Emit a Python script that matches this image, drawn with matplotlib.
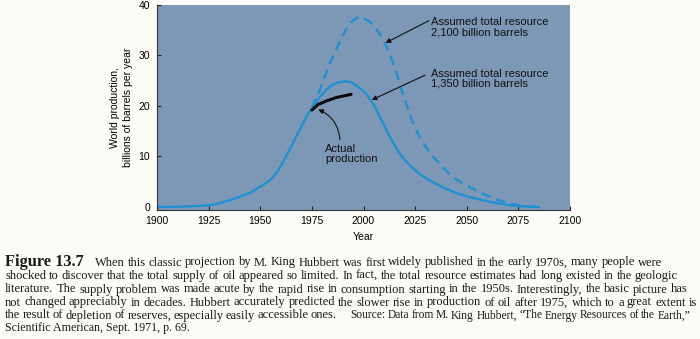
import matplotlib
matplotlib.use('Agg')
import matplotlib.pyplot as plt
from matplotlib.transforms import IdentityTransform

# Hubbert curve, 1,350 billion barrels
years_1350 = [1900, 1910, 1920, 1926, 1930, 1935, 1940, 1945, 1950, 1955, 1958,
              1961, 1964, 1967, 1970, 1973, 1976, 1979, 1982, 1985, 1988, 1991,
              1994, 1997, 2001, 2005, 2009, 2013, 2017, 2020, 2023, 2027, 2031,
              2036, 2040, 2046, 2052, 2058, 2064, 2070, 2076, 2082, 2085]
prod_1350 = [0.0, 0.05, 0.2, 0.4, 0.7, 1.3, 2.0, 2.8, 4.0, 5.4, 6.8,
             8.9, 11.2, 13.6, 16.0, 18.3, 20.2, 21.8, 23.2, 24.2, 24.7, 24.9,
             24.7, 23.9, 22.6, 20.2, 17.0, 13.7, 10.9, 9.3, 8.0, 6.6, 5.5,
             4.4, 3.6, 2.6, 1.9, 1.3, 0.8, 0.4, 0.15, 0.03, 0.0]

# Hubbert curve, 2,100 billion barrels
years_2100 = [1975, 1978, 1981, 1984, 1988, 1991, 1994, 1997, 2000, 2003, 2006,
              2009, 2012, 2014, 2016, 2018, 2020, 2022, 2024, 2027, 2030, 2033,
              2037, 2043, 2048, 2053, 2058, 2063, 2068, 2073, 2078, 2083]
prod_2100 = [19.7, 22.3, 25.6, 28.8, 32.2, 34.8, 36.6, 37.5, 37.4, 36.7, 35.4,
             33.5, 31.0, 28.8, 26.5, 23.8, 21.2, 18.8, 16.6, 14.0, 12.0, 10.3,
             8.5, 6.0, 4.7, 3.6, 2.6, 1.7, 1.0, 0.5, 0.2, 0.0]

# actual production
years_actual = [1975, 1978, 1982, 1987, 1994]
prod_actual = [19.2, 20.3, 21.0, 21.7, 22.3]

x_ticks = [1900, 1925, 1950, 1975, 2000, 2025, 2050, 2075, 2100]
y_ticks = [0, 10, 20, 30, 40]

fig_title = 'Figure 13.7'
caption = [
    'When this classic projection by M. King Hubbert was first widely published in the early 1970s, many people were',
    'shocked to discover that the total supply of oil appeared so limited. In fact, the total resource estimates had long existed in the geologic',
    'literature. The supply problem was made acute by the rapid rise in consumption starting in the 1950s. Interestingly, the basic picture has',
    'not changed appreciably in decades. Hubbert accurately predicted the slower rise in production of oil after 1975, which to a great extent is',
    'the result of depletion of reserves, especially easily accessible ones.',
    'Source: Data from M. King Hubbert, \u201cThe Energy Resources of the Earth,\u201d',
    'Scientific American, Sept. 1971, p. 69.',
]

plt.rcParams['font.family'] = ['Liberation Sans', 'DejaVu Sans']

W, H = 700, 339
fig = plt.figure(figsize=(7, 3.39), dpi=100, facecolor='#fcfbf7')
ax = fig.add_axes([157 / W, 1 - 209.5 / H, 413 / W, 204.5 / H])
ax.set_facecolor('#7d98b6')

line_color = '#2090d2'
ax.plot(years_1350, prod_1350, color=line_color, lw=1.7, solid_capstyle='round')
ax.plot(years_2100, prod_2100, color=line_color, lw=1.7, linestyle=(0, (4, 2.6)))
ax.plot(years_actual, prod_actual, color='#0a0a0a', lw=2.2, solid_capstyle='round')

ax.set_xlim(1900, 2100)
ax.set_ylim(-0.5, 40)
ax.set_xticks(x_ticks)
ax.set_yticks(y_ticks)
ax.tick_params(direction='in', length=3, width=0.8, color='#222222',
               labelsize=7.5, pad=5)
for s in ['top', 'right']:
    ax.spines[s].set_visible(False)
for s in ['left', 'bottom']:
    ax.spines[s].set_color('#333333')
    ax.spines[s].set_linewidth(0.8)

ax.set_xlabel('Year', fontsize=7.5, labelpad=4)
ax.set_ylabel('World production,\nbillions of barrels per year', fontsize=7.5,
              labelpad=4, linespacing=1.35)

# annotations
arrow = dict(arrowstyle='-|>', color='#111111', lw=0.8, mutation_scale=7,
             shrinkA=0, shrinkB=0)
ax.annotate('', xy=(2010.7, 32.5), xytext=(2031.7, 36.9), arrowprops=arrow)
ax.text(2032.5, 35.6, 'Assumed total resource\n2,100 billion barrels',
        fontsize=8, color='#111111', va='center', ha='left', linespacing=1.05)
ax.annotate('', xy=(2004, 21.2), xytext=(2029.8, 26.1), arrowprops=arrow)
ax.text(2032.5, 25.4, 'Assumed total resource\n1,350 billion barrels',
        fontsize=8, color='#111111', va='center', ha='left', linespacing=1.05)
ax.annotate('', xy=(1978.1, 19.3), xytext=(1988.6, 13.3),
            arrowprops=dict(arrow, connectionstyle='arc3,rad=0.3'))
ax.text(1981.4, 10.5, 'Actual\nproduction', fontsize=8, color='#111111',
        va='center', ha='left', linespacing=1.05)

# caption lines; words spread between x0 and x1 (pixels)
renderer = fig.canvas.get_renderer()
cap_font = dict(family='Liberation Serif', color='#1a1a1a', va='baseline',
                transform=IdentityTransform())


def put_line(text, x0, x1, y, size=9.0, min_gap=0.3):
    words = text.split(' ')
    while True:
        arts = [fig.text(0, 0, w, fontsize=size, **cap_font) for w in words]
        widths = [a.get_window_extent(renderer).width for a in arts]
        gap = (x1 - x0 - sum(widths)) / max(len(words) - 1, 1)
        if gap >= size * min_gap:
            break
        # too tight, shrink a little
        for a in arts:
            a.remove()
        size -= 0.1
    x = x0
    for a, w in zip(arts, widths):
        a.set_position((x, H - y))
        x += w + gap


fig.text(5, H - 265.5, fig_title, fontsize=11.8, weight='bold', **cap_font)
put_line(caption[0], 95, 662, 265.5)
put_line(caption[1], 5, 678, 279)
put_line(caption[2], 5, 688, 292.5)
put_line(caption[3], 5, 697, 305.5)
put_line(caption[4], 5, 337, 318.5, min_gap=0.25)
put_line(caption[5], 350, 690, 318.5, size=8.6, min_gap=0.25)
fig.text(5, H - 331.5, caption[6], fontsize=8.6, **cap_font)

fig.savefig('out.png', dpi=100, facecolor=fig.get_facecolor())
